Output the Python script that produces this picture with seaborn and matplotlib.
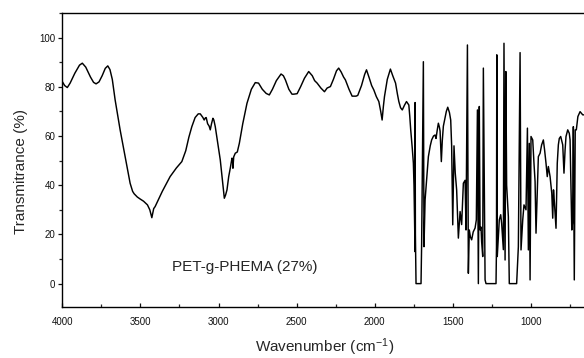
import matplotlib
matplotlib.use("Agg")
import matplotlib.pyplot as plt
import pandas as pd
import seaborn as sns
from matplotlib.ticker import MultipleLocator

# ---- data ----
wavenumber = [
    4000, 3985, 3968, 3950, 3920, 3890, 3872, 3850, 3820, 3800, 3784, 3765, 3745, 3725, 3709, 3695,
    3680, 3662, 3630, 3598, 3566, 3550, 3540, 3520, 3502, 3480, 3455, 3440, 3427, 3415, 3406, 3360,
    3310, 3270, 3235, 3210, 3190, 3171, 3150, 3130, 3117, 3100, 3092, 3085, 3079, 3070, 3060, 3053,
    3045, 3036, 3030, 3021, 3005, 2989, 2975, 2963, 2955, 2946, 2935, 2925, 2914, 2910, 2908, 2903,
    2893, 2880, 2867, 2845, 2818, 2790, 2765, 2744, 2720, 2695, 2675, 2655, 2630, 2600, 2585, 2572,
    2550, 2530, 2519, 2497, 2475, 2450, 2423, 2400, 2385, 2369, 2345, 2322, 2305, 2284, 2265, 2245,
    2231, 2215, 2200, 2188, 2165, 2145, 2120, 2109, 2085, 2065, 2053, 2035, 2020, 2006, 1990, 1974,
    1962, 1953, 1945, 1938, 1920, 1900, 1885, 1867, 1855, 1846, 1835, 1824, 1810, 1797, 1782, 1776,
    1770, 1760, 1753, 1749, 1747, 1744, 1743, 1742, 1740, 1736, 1704, 1700, 1689, 1685, 1681, 1678,
    1657, 1645, 1636, 1624, 1614, 1608, 1600, 1593, 1586, 1582, 1574, 1568, 1561, 1550, 1542, 1533,
    1522, 1514, 1508, 1501, 1493, 1485, 1476, 1465, 1454, 1444, 1433, 1422, 1416, 1407, 1401, 1395,
    1388, 1380, 1370, 1358, 1350, 1343, 1337, 1331, 1326, 1320, 1316, 1309, 1305, 1294, 1288, 1224,
    1221, 1219, 1216, 1203, 1194, 1188, 1177, 1173, 1166, 1161, 1156, 1145, 1139, 1092, 1081, 1070,
    1064, 1053, 1045, 1032, 1023, 1017, 1011, 1006, 1000, 989, 981, 974, 968, 953, 942, 932,
    921, 913, 904, 896, 889, 878, 867, 861, 856, 850, 840, 832, 825, 819, 810, 797,
    789, 782, 776, 765, 755, 750, 745, 739, 734, 729, 723, 717, 710, 700, 686, 678,
    669, 655,
]
transmittance = [
    82.1, 80.5, 79.7, 81.5, 85.5, 88.8, 89.6, 88.0, 84.0, 81.8, 81.2, 82.0, 84.5, 87.5, 88.5, 87.0,
    83.0, 74.7, 62.5, 51.6, 40.8, 37.5, 36.5, 35.2, 34.4, 33.5, 32.0, 30.0, 26.8, 30.5, 31.3, 37.5,
    43.5, 47.0, 49.6, 54.0, 59.5, 63.8, 67.5, 69.0, 69.0, 67.5, 66.5, 67.3, 67.5, 65.0, 64.0, 62.5,
    65.0, 67.2, 66.5, 63.8, 57.0, 50.3, 42.0, 34.7, 36.0, 38.1, 43.5, 46.9, 51.0, 50.5, 46.9, 51.5,
    53.0, 53.5, 57.0, 65.0, 73.3, 79.0, 81.7, 81.5, 79.0, 77.3, 76.7, 79.0, 82.5, 85.2, 84.5, 82.8,
    79.0, 77.0, 77.0, 77.2, 80.0, 83.5, 86.2, 84.5, 82.5, 81.5, 79.5, 78.0, 79.5, 80.1, 83.0, 86.5,
    87.6, 86.0, 84.0, 82.8, 79.0, 76.2, 76.2, 76.5, 80.5, 85.0, 86.9, 83.5, 80.5, 78.7, 76.0, 74.0,
    70.0, 66.5, 72.0, 76.0, 83.0, 87.2, 84.5, 81.5, 77.0, 74.0, 71.5, 70.6, 72.5, 74.0, 72.6, 68.0,
    62.5, 55.0, 49.0, 40.0, 32.8, 20.0, 13.0, 73.6, 20.0, 0.0, 0.0, 16.4, 90.2, 15.0, 25.0, 34.0,
    51.6, 56.0, 58.4, 60.0, 60.4, 59.0, 62.5, 65.2, 63.5, 62.0, 49.6, 58.0, 64.0, 67.5, 70.0, 71.7,
    69.5, 66.5, 56.0, 23.9, 56.0, 45.0, 38.1, 18.5, 29.3, 24.0, 40.8, 42.0, 21.8, 97.0, 4.2, 21.8,
    19.0, 17.8, 21.0, 22.6, 25.9, 70.6, 0.0, 72.0, 21.8, 23.0, 17.0, 11.0, 87.6, 1.5, 0.0, 0.0,
    15.0, 93.0, 11.0, 25.9, 28.0, 24.5, 13.8, 97.7, 9.6, 86.2, 40.0, 27.2, 0.0, 0.0, 15.0, 93.9,
    13.7, 25.9, 32.0, 30.0, 63.2, 13.7, 57.0, 1.5, 59.8, 58.4, 48.9, 41.5, 20.5, 51.6, 53.0, 56.4,
    58.4, 54.3, 48.9, 43.5, 47.6, 43.5, 36.7, 26.6, 38.1, 32.7, 22.5, 48.9, 56.4, 59.0, 59.8, 56.4,
    44.9, 54.3, 59.8, 62.5, 61.1, 58.4, 42.2, 21.8, 25.0, 63.8, 1.5, 62.5, 62.5, 67.9, 69.9, 69.3,
    68.6, 68.6,
]
x_ticks = [4000, 3500, 3000, 2500, 2000, 1500, 1000]
y_ticks = [0, 20, 40, 60, 80, 100]
sample_label = "PET-g-PHEMA (27%)"
x_title = "Wavenumber (cm$^{\\mathregular{-1}}$)"
y_title = "Transmitrance (%)"

# ---- styling ----
sns.set_style("ticks")
plt.rcParams['font.family'] = ['Liberation Sans', 'DejaVu Sans']
plt.rcParams['mathtext.fontset'] = 'custom'
plt.rcParams['mathtext.rm'] = 'Liberation Sans'
plt.rcParams['mathtext.it'] = 'Liberation Sans:italic'
plt.rcParams['mathtext.bf'] = 'Liberation Sans:bold'

fig = plt.figure(figsize=(5.84, 3.58), dpi=100)
ax = fig.add_axes([0.1067, 0.1425, 0.8962, 0.8212])

df = pd.DataFrame({"Wavenumber": wavenumber, "Transmittance": transmittance})
sns.lineplot(data=df, x="Wavenumber", y="Transmittance", sort=False, estimator=None,
             color="black", linewidth=1.05, ax=ax)

ax.set_xlim(4000, 650)
ax.set_ylim(-9.5, 110)

ax.set_xticks(x_ticks)
ax.set_xticklabels([str(t) for t in x_ticks])
ax.set_yticks(y_ticks)
ax.set_yticklabels([str(t) for t in y_ticks])
ax.xaxis.set_minor_locator(MultipleLocator(250))
ax.yaxis.set_minor_locator(MultipleLocator(10))

ax.tick_params(axis='x', which='major', direction='in', length=3, width=0.9,
               labelsize=7, pad=7, colors='#111111')
ax.tick_params(axis='x', which='minor', direction='in', length=2, width=0.9)
ax.tick_params(axis='y', which='major', direction='out', length=3, width=0.9,
               labelsize=7, pad=2, colors='#111111')
ax.tick_params(axis='y', which='minor', direction='out', length=2, width=0.9)

for side in ['left', 'bottom', 'top', 'right']:
    ax.spines[side].set_visible(True)
    ax.spines[side].set_linewidth(1.0)
    ax.spines[side].set_color('black')

ax.set_xlabel(x_title, fontsize=11)
ax.set_ylabel(y_title, fontsize=11)
ax.xaxis.set_label_coords(0.501, -0.10)
ax.yaxis.set_label_coords(-0.066, 0.46)

ax.text(3300, 5.2, sample_label, fontsize=11, ha='left', va='baseline')

fig.savefig("out.png", dpi=100)
